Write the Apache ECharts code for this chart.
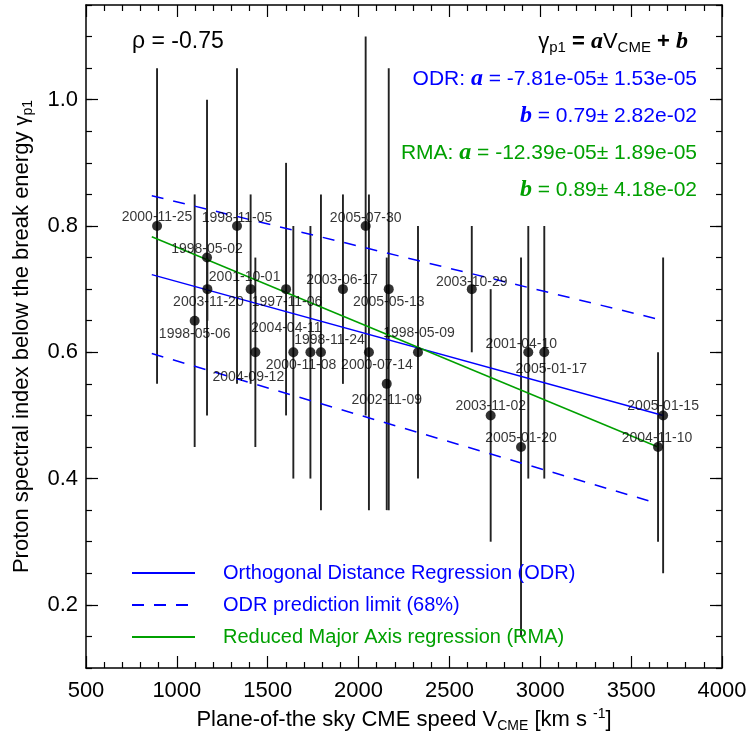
<!DOCTYPE html>
<html>
<head>
<meta charset="utf-8">
<script src="https://cdn.jsdelivr.net/npm/echarts@6.0.0/dist/echarts.min.js"></script>
<style>
html, body { margin: 0; padding: 0; background: #fff; }
#chart { width: 749px; height: 733px; }
</style>
</head>
<body>
<div id="chart"></div>
<script>
// ---------------- data ----------------
var eventDates = ['2000-11-25', '1998-05-06', '1998-05-02', '2003-11-20', '1998-11-05', '2001-10-01',
    '2004-09-12', '1997-11-06', '2004-04-11', '1998-11-24', '2000-11-08', '2003-06-17',
    '2005-07-30', '2000-07-14', '2005-05-13', '2002-11-09', '1998-05-09', '2003-10-29',
    '2003-11-02', '2005-01-20', '2001-04-10', '2005-01-17', '2004-11-10', '2005-01-15'];
var cmeSpeed = [891, 1098, 1166, 1168, 1331, 1406,
    1432, 1601, 1641, 1735, 1793, 1914,
    2039, 2057, 2166, 2155, 2327, 2623,
    2727, 2894, 2934, 3022, 3648, 3676];
var gammaP1 = [0.80, 0.65, 0.75, 0.70, 0.80, 0.70,
    0.60, 0.70, 0.60, 0.60, 0.60, 0.70,
    0.80, 0.60, 0.70, 0.55, 0.60, 0.70,
    0.50, 0.45, 0.60, 0.60, 0.45, 0.50];
var gammaLow = [0.55, 0.45, 0.50, 0.65, 0.55, 0.55,
    0.45, 0.50, 0.40, 0.40, 0.35, 0.55,
    0.50, 0.35, 0.35, 0.35, 0.40, 0.60,
    0.30, 0.15, 0.40, 0.40, 0.30, 0.25];
var gammaHigh = [1.05, 0.85, 1.00, 0.75, 1.05, 0.85,
    0.75, 0.90, 0.80, 0.80, 0.85, 0.85,
    1.10, 0.85, 1.05, 0.75, 0.80, 0.80,
    0.70, 0.75, 0.80, 0.80, 0.60, 0.75];

// fit lines, end points
var odrLine = [[862, 0.723], [3676, 0.500]];
var odrUpper = [[862, 0.848], [3641, 0.653]];
var odrLower = [[862, 0.598], [3641, 0.361]];
var rmaLine = [[862, 0.783], [3648, 0.450]];

var yMajor = [0.2, 0.4, 0.6, 0.8, 1.0];

// label nudge (px) from the dot centre, to keep them where the figure has them
var labelShift = [[0, -9], [0, 13], [0, -8], [1, 13], [0, -8], [-6, -12],
    [-7, 25], [1, 13], [-7, -24], [19, -12], [-20, 13], [-1, -9],
    [0, -8], [8, 13], [0, 13], [0, 16], [1, -19], [0, -7],
    [0, -9], [0, -9], [-7, -8], [7, 17], [-1, -9], [0, -9]];

var BLUE = '#0000ff';
var GREEN = '#00a000';
var FONT = 'Liberation Sans, Arial, Helvetica, sans-serif';
var SERIF = 'Liberation Serif, Times New Roman, serif';

var chart = echarts.init(document.getElementById('chart'));

var pointData = eventDates.map(function (d, i) {
    return {
        name: d,
        value: [cmeSpeed[i], gammaP1[i]],
        label: { offset: labelShift[i] }
    };
});
var barData = eventDates.map(function (d, i) {
    return [cmeSpeed[i], gammaLow[i], gammaHigh[i]];
});

function xAx(pos, showLabel) {
    return {
        type: 'value', position: pos, min: 500, max: 4000, interval: 500,
        axisLine: { show: true, onZero: false, lineStyle: { color: '#000', width: 1.5 } },
        axisTick: { show: true, inside: true, length: 12, lineStyle: { color: '#000', width: 1.2 } },
        minorTick: { show: true, splitNumber: 5, length: 6, lineStyle: { color: '#000', width: 1.2 } },
        splitLine: { show: false },
        axisLabel: {
            show: showLabel, fontSize: 22, color: '#000', fontFamily: FONT, margin: 12,
            formatter: function (v) { return String(v); }
        }
    };
}
function yAx(pos, major, showLabel) {
    var ax = {
        type: 'value', position: pos, min: 0.1, max: 1.15, interval: 0.05,
        axisLine: { show: !major, onZero: false, lineStyle: { color: '#000', width: 1.5 } },
        axisTick: { show: true, inside: true, length: major ? 12 : 6, lineStyle: { color: '#000', width: 1.2 } },
        splitLine: { show: false },
        axisLabel: { show: false }
    };
    if (major) ax.axisTick.customValues = yMajor;
    if (showLabel) {
        ax.axisLabel = {
            show: true, customValues: yMajor, fontSize: 22, color: '#000', fontFamily: FONT, margin: 8,
            formatter: function (v) { return v.toFixed(1); }
        };
    }
    return ax;
}

var xBottom = xAx('bottom', true);
xBottom.name = '{t|Plane-of-the sky CME speed V}{s|CME}{t| [km s }{p|-1}{t|]}';
xBottom.nameLocation = 'middle';
xBottom.nameGap = 33;
xBottom.nameTextStyle = {
    color: '#000', fontFamily: FONT,
    rich: {
        t: { fontSize: 22, lineHeight: 26, fontFamily: FONT, color: '#000' },
        s: { fontSize: 14, lineHeight: 10, verticalAlign: 'bottom', fontFamily: FONT, color: '#000' },
        p: { fontSize: 14, lineHeight: 14, verticalAlign: 'top', fontFamily: FONT, color: '#000' }
    }
};

var yLeft = yAx('left', false, true);
yLeft.name = '{t|Proton spectral index below the break energy }{g|γ}{s|p1}';
yLeft.nameLocation = 'middle';
yLeft.nameGap = 51;
yLeft.nameRotate = 90;
yLeft.nameTextStyle = {
    color: '#000', fontFamily: FONT,
    rich: {
        t: { fontSize: 22, lineHeight: 26, fontFamily: FONT, color: '#000' },
        g: { fontSize: 20, lineHeight: 26, fontFamily: FONT, color: '#000' },
        s: { fontSize: 14, lineHeight: 10, verticalAlign: 'bottom', fontFamily: FONT, color: '#000' }
    }
};

var option = {
    backgroundColor: '#fff',
    animation: false,
    grid: { left: 86, right: 27, top: 5, bottom: 65, outerBoundsMode: 'none' },
    xAxis: [xBottom, xAx('top', false)],
    yAxis: [yLeft, yAx('left', true, false), yAx('right', false, false), yAx('right', true, false)],
    legend: {
        orient: 'vertical', left: 131, top: 563, padding: 0,
        itemWidth: 63, itemHeight: 20, itemGap: 12,
        selectedMode: false,
        itemStyle: { opacity: 0 },
        textStyle: { fontSize: 20, fontFamily: FONT, padding: [0, 0, 0, 23] },
        data: [
            { name: 'Orthogonal Distance Regression (ODR)', textStyle: { color: BLUE } },
            { name: 'ODR prediction limit (68%)', textStyle: { color: BLUE } },
            { name: 'Reduced Major Axis regression (RMA)', textStyle: { color: GREEN } }
        ]
    },
    graphic: [
        {
            type: 'text', left: 132, top: 30, z: 10,
            style: { text: 'ρ = -0.75', font: '23px ' + FONT, fill: '#000' }
        },
        {
            type: 'text', right: 61, top: 30, z: 10,
            style: {
                text: '{g|γ}{s|p1}{o| = }{ab|a}{t|V}{s|CME}{o| + }{ab|b}',
                rich: {
                    g: { fontSize: 22, lineHeight: 26, fontFamily: FONT, fill: '#000' },
                    t: { fontSize: 22, lineHeight: 26, fontFamily: FONT, fill: '#000' },
                    o: { fontSize: 22, lineHeight: 26, fontFamily: FONT, fontWeight: 'bold', fill: '#000' },
                    ab: { fontSize: 24, lineHeight: 26, fontFamily: SERIF, fontWeight: 'bold', fontStyle: 'italic', fill: '#000' },
                    s: { fontSize: 15, lineHeight: 10, verticalAlign: 'bottom', fontFamily: FONT, fill: '#000' }
                }
            }
        },
        eqLine('ODR: ', 'a', ' = -7.81e-05± 1.53e-05', BLUE, 67),
        eqLine('', 'b', ' = 0.79± 2.82e-02', BLUE, 104),
        eqLine('RMA: ', 'a', ' = -12.39e-05± 1.89e-05', GREEN, 141),
        eqLine('', 'b', ' = 0.89± 4.18e-02', GREEN, 178)
    ],
    series: [
        {
            name: 'errorbars',
            type: 'custom',
            z: 1,
            silent: true,
            data: barData,
            renderItem: function (params, api) {
                var top = api.coord([api.value(0), api.value(2)]);
                var bot = api.coord([api.value(0), api.value(1)]);
                return {
                    type: 'line',
                    shape: { x1: top[0], y1: top[1], x2: bot[0], y2: bot[1] },
                    style: { stroke: '#222', lineWidth: 1.9 }
                };
            }
        },
        {
            name: 'Orthogonal Distance Regression (ODR)', type: 'line', z: 2,
            data: odrLine, symbol: 'none', color: BLUE,
            lineStyle: { color: BLUE, width: 1.5 }
        },
        {
            name: 'ODR prediction limit (68%)', type: 'line', z: 2,
            data: odrUpper, symbol: 'none', color: BLUE,
            lineStyle: { color: BLUE, width: 1.5, type: [12, 10] }
        },
        {
            name: 'ODR prediction limit (68%)', type: 'line', z: 2,
            data: odrLower, symbol: 'none', color: BLUE,
            lineStyle: { color: BLUE, width: 1.5, type: [12, 10] }
        },
        {
            name: 'Reduced Major Axis regression (RMA)', type: 'line', z: 2,
            data: rmaLine, symbol: 'none', color: GREEN,
            lineStyle: { color: GREEN, width: 1.5 }
        },
        {
            name: 'events', type: 'scatter', z: 3,
            symbol: 'circle', symbolSize: 10,
            itemStyle: { color: '#000' },
            data: pointData,
            label: {
                show: true, position: 'inside',
                formatter: '{b}', fontSize: 14, color: '#000', fontFamily: FONT
            }
        }
    ]
};

function eqLine(pre, sym, rest, color, top) {
    return {
        type: 'text', right: 52, top: top, z: 10,
        style: {
            text: (pre ? '{n|' + pre + '}' : '') + '{ab|' + sym + '}{n|' + rest + '}',
            rich: {
                n: { fontSize: 21, lineHeight: 26, fontFamily: FONT, fill: color },
                ab: { fontSize: 24, lineHeight: 26, fontFamily: SERIF, fontWeight: 'bold', fontStyle: 'italic', fill: color }
            }
        }
    };
}

chart.setOption(option);
</script>
</body>
</html>
